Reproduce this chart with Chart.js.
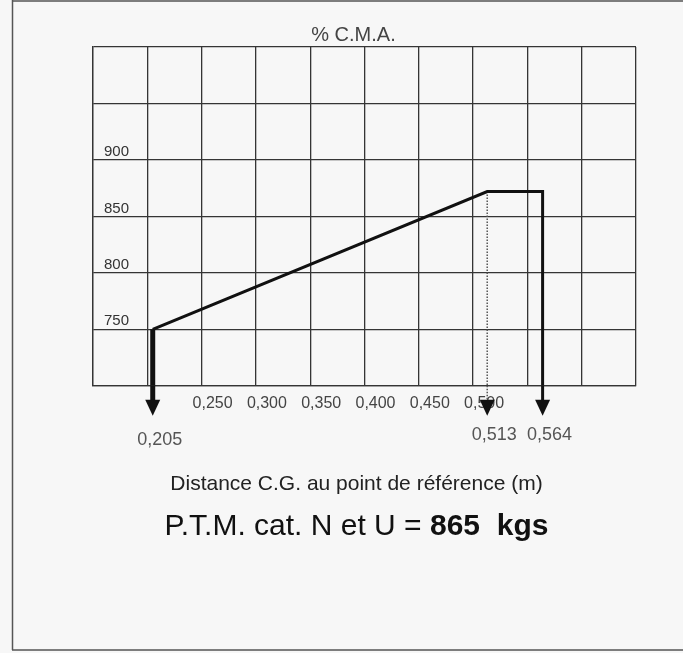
<!DOCTYPE html>
<html>
<head>
<meta charset="utf-8">
<script src="https://cdn.jsdelivr.net/npm/chart.js@4"></script>
<style>
  html, body { margin: 0; padding: 0; background: #f7f7f7; }
  #wrap { position: relative; width: 683px; height: 653px; }
</style>
</head>
<body>
<div id="wrap"><canvas id="c" width="683" height="653"></canvas></div>
<script>
// ---- data ----
const envelopeCG   = [0.205, 0.513, 0.564, 0.564];   // m
const envelopeMass = [750,   872,   872,   700];     // kg
const startDropCG   = [0.205, 0.205];
const startDropMass = [750, 700];
const dottedCG   = [0.513, 0.513];
const dottedMass = [872, 700];
const arrowValues = [0.205, 0.513, 0.564];
const arrowLabels = ['0,205', '0,513', '0,564'];
const xTickValues = [0.250, 0.300, 0.350, 0.400, 0.450, 0.500];
const yTickValues = [750, 800, 850, 900];
const chartTitle = '% C.M.A.';
const xAxisTitle = 'Distance C.G. au point de référence (m)';
const ptmText = 'P.T.M. cat. N et U = ';
const ptmValue = '865  kgs';

const FONT = "'Liberation Sans', Arial, sans-serif";
const GRID = '#353535';

function pts(xs, ys) { return xs.map((x, i) => ({ x: x, y: ys[i] })); }

const decor = {
  id: 'decor',
  beforeDraw(chart) {
    const ctx = chart.ctx;
    ctx.save();
    ctx.fillStyle = '#f7f7f7';
    ctx.fillRect(0, 0, chart.width, chart.height);
    ctx.strokeStyle = '#555';
    ctx.lineWidth = 1.5;
    ctx.beginPath();
    ctx.moveTo(12.5, 0); ctx.lineTo(12.5, 650);
    ctx.moveTo(12, 650); ctx.lineTo(683, 650);
    ctx.moveTo(12, 1); ctx.lineTo(683, 1);
    ctx.stroke();
    ctx.restore();
  },
  afterDatasetsDraw(chart) {
    const ctx = chart.ctx;
    const xs = chart.scales.x;
    const bottom = chart.chartArea.bottom;
    ctx.save();
    arrowValues.forEach((v, i) => {
      const px = xs.getPixelForValue(v);
      ctx.strokeStyle = '#111';
      ctx.lineWidth = i === 0 ? 5 : 3;
      if (i === 1) { ctx.setLineDash([1.5, 1.5]); ctx.lineWidth = 1.5; ctx.strokeStyle = '#555'; }
      ctx.beginPath();
      ctx.moveTo(px, bottom);
      ctx.lineTo(px, bottom + 15);
      ctx.stroke();
      ctx.setLineDash([]);
      ctx.fillStyle = '#111';
      ctx.beginPath();
      ctx.moveTo(px - 7.5, bottom + 14);
      ctx.lineTo(px + 7.5, bottom + 14);
      ctx.lineTo(px, bottom + 30);
      ctx.closePath();
      ctx.fill();
      ctx.fillStyle = '#555';
      ctx.font = '18px ' + FONT;
      ctx.textAlign = 'center';
      ctx.textBaseline = 'alphabetic';
      ctx.fillText(arrowLabels[i], px + 7, i === 0 ? 445 : 440);
    });
    // x-axis title
    ctx.fillStyle = '#222';
    ctx.font = '21px ' + FONT;
    ctx.textAlign = 'center';
    ctx.textBaseline = 'alphabetic';
    ctx.fillText(xAxisTitle, 356.5, 490);
    // P.T.M. line
    ctx.fillStyle = '#111';
    ctx.textAlign = 'left';
    ctx.font = '30px ' + FONT;
    const w1 = ctx.measureText(ptmText).width;
    ctx.font = 'bold 30px ' + FONT;
    const w2 = ctx.measureText(ptmValue).width;
    const x0 = 356.5 - (w1 + w2) / 2;
    ctx.font = '30px ' + FONT;
    ctx.fillText(ptmText, x0, 535);
    ctx.font = 'bold 30px ' + FONT;
    ctx.fillText(ptmValue, x0 + w1, 535);
    ctx.restore();
  }
};

new Chart(document.getElementById('c'), {
  type: 'line',
  data: {
    datasets: [
      { data: pts(startDropCG, startDropMass), borderColor: '#111', borderWidth: 5, pointRadius: 0, tension: 0 },
      { data: pts(envelopeCG, envelopeMass), borderColor: '#111', borderWidth: 3, pointRadius: 0, tension: 0, borderJoinStyle: 'miter' },
      { data: pts(dottedCG, dottedMass), borderColor: '#555', borderWidth: 1.5, borderDash: [1.5, 1.5], pointRadius: 0, tension: 0 }
    ]
  },
  options: {
    responsive: false,
    animation: false,
    events: [],
    layout: { padding: { left: 71, right: 47, top: 0, bottom: 232 } },
    plugins: {
      legend: { display: false },
      tooltip: { enabled: false },
      title: {
        display: true, text: chartTitle, color: '#444',
        font: { family: FONT, size: 20, weight: 'normal' },
        padding: { top: 23, bottom: 0 }
      }
    },
    scales: {
      x: {
        type: 'linear', min: 0.15, max: 0.65,
        grid: { color: GRID, lineWidth: 1.3, drawTicks: false },
        border: { color: GRID, width: 1.3 },
        afterBuildTicks(axis) {
          const t = [];
          for (let i = 0; i <= 10; i++) t.push({ value: 0.15 + i * 0.05 });
          axis.ticks = t;
        },
        ticks: {
          padding: 8, labelOffset: 11, color: '#444', maxRotation: 0, autoSkip: false,
          font: { family: FONT, size: 16 },
          callback(v) {
            const m = xTickValues.find(t => Math.abs(t - v) < 1e-6);
            return m === undefined ? '' : m.toFixed(3).replace('.', ',');
          }
        }
      },
      y: {
        min: 700, max: 1000,
        grid: { color: GRID, lineWidth: 1.3, drawTicks: false },
        border: { color: GRID, width: 1.3 },
        afterBuildTicks(axis) {
          const t = [];
          for (let v = 700; v <= 1000; v += 50) t.push({ value: v });
          axis.ticks = t;
        },
        ticks: {
          mirror: true, padding: 11, labelOffset: -8, color: '#333',
          font: { family: FONT, size: 15 },
          callback(v) { return yTickValues.includes(v) ? String(v) : ''; }
        }
      }
    }
  },
  plugins: [decor]
});
</script>
</body>
</html>
